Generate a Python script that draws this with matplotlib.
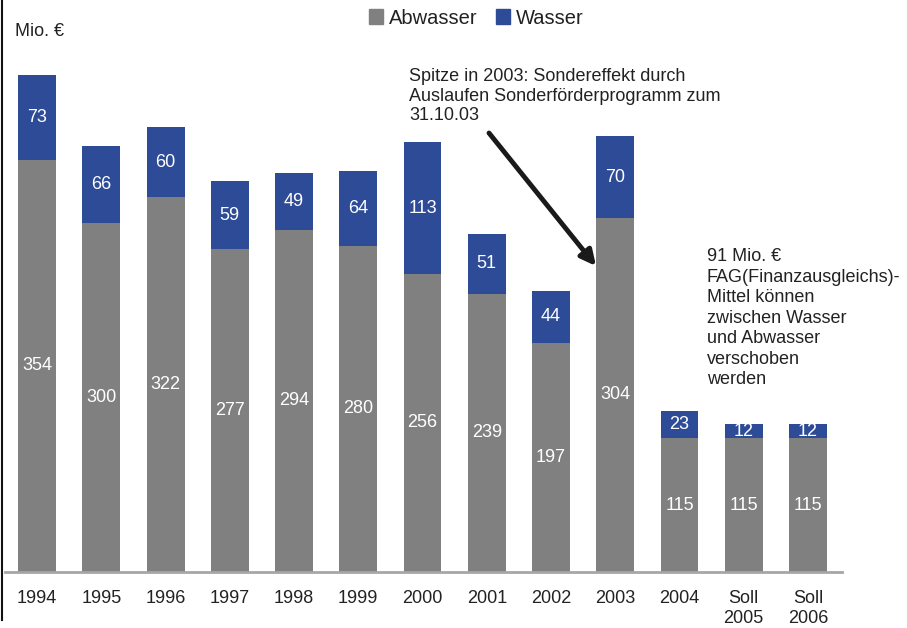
import matplotlib.pyplot as plt
from matplotlib.patches import Patch
from matplotlib.lines import Line2D

plt.rcParams['font.family'] = ['Liberation Sans', 'DejaVu Sans']

# Data
years = ["1994", "1995", "1996", "1997", "1998", "1999", "2000",
         "2001", "2002", "2003", "2004", "Soll\n2005", "Soll\n2006"]
abwasser = [354, 300, 322, 277, 294, 280, 256, 239, 197, 304, 115, 115, 115]
wasser = [73, 66, 60, 59, 49, 64, 113, 51, 44, 70, 23, 12, 12]

gray = "#808080"
blue = "#2D4B96"
txt = "#222222"

W, H = 907, 628
fig = plt.figure(figsize=(W / 100, H / 100), dpi=100)
ax = fig.add_axes([5 / W, 1 - 572 / H, (842 - 5) / W, (572 - 20) / H])

x = list(range(len(years)))
ax.bar(x, abwasser, width=0.59, color=gray)
ax.bar(x, wasser, width=0.59, bottom=abwasser, color=blue)

for i in x:
    ax.text(i, abwasser[i] / 2, str(abwasser[i]), ha="center", va="center",
            color="white", fontsize=13)
    ax.text(i, abwasser[i] + wasser[i] / 2, str(wasser[i]), ha="center",
            va="center", color="white", fontsize=13)

ax.set_xlim(-0.5, 12.53)
ax.set_ylim(0, 474)
ax.set_xticks(x)
ax.set_xticklabels(years, fontsize=13, color=txt, linespacing=1.25)
ax.tick_params(axis="x", length=0, pad=13)
ax.set_yticks([])
for s in ["top", "right", "left"]:
    ax.spines[s].set_visible(False)
ax.spines["bottom"].set_color("#A6A6A6")
ax.spines["bottom"].set_linewidth(2)

# left border line
fig.add_artist(Line2D([1.5 / W, 1.5 / W], [1 - 620 / H, 1.0], color="#111111",
                      lw=1.5, transform=fig.transFigure))

fig.text(15 / W, 1 - 32 / H, "Mio. €", fontsize=13, color=txt, va="center")

handles = [Patch(color=gray, label="Abwasser"), Patch(color=blue, label="Wasser")]
fig.legend(handles=handles, loc="center", bbox_to_anchor=(476 / W, 1 - 18 / H),
           ncol=2, frameon=False, fontsize=14.5, handlelength=0.7, handleheight=0.7,
           handletextpad=0.3, columnspacing=0.9, labelcolor=txt)

fig.text(409 / W, 1 - 68 / H,
         "Spitze in 2003: Sondereffekt durch\nAuslaufen Sonderförderprogramm zum\n31.10.03",
         fontsize=13, color=txt, va="top", ha="left", linespacing=1.2)

fig.text(707 / W, 1 - 248 / H,
         "91 Mio. €\nFAG(Finanzausgleichs)-\nMittel können\nzwischen Wasser\n"
         "und Abwasser\nverschoben\nwerden",
         fontsize=13, color=txt, va="top", ha="left", linespacing=1.27)

ax.annotate("", xy=(596 / W, 1 - 266 / H), xytext=(489 / W, 1 - 133 / H),
            xycoords="figure fraction", textcoords="figure fraction",
            arrowprops=dict(arrowstyle="-|>,head_width=0.45,head_length=0.9",
                            lw=3.5, color="#1a1a1a", shrinkA=0, shrinkB=0))

fig.savefig("out.png", dpi=100)
